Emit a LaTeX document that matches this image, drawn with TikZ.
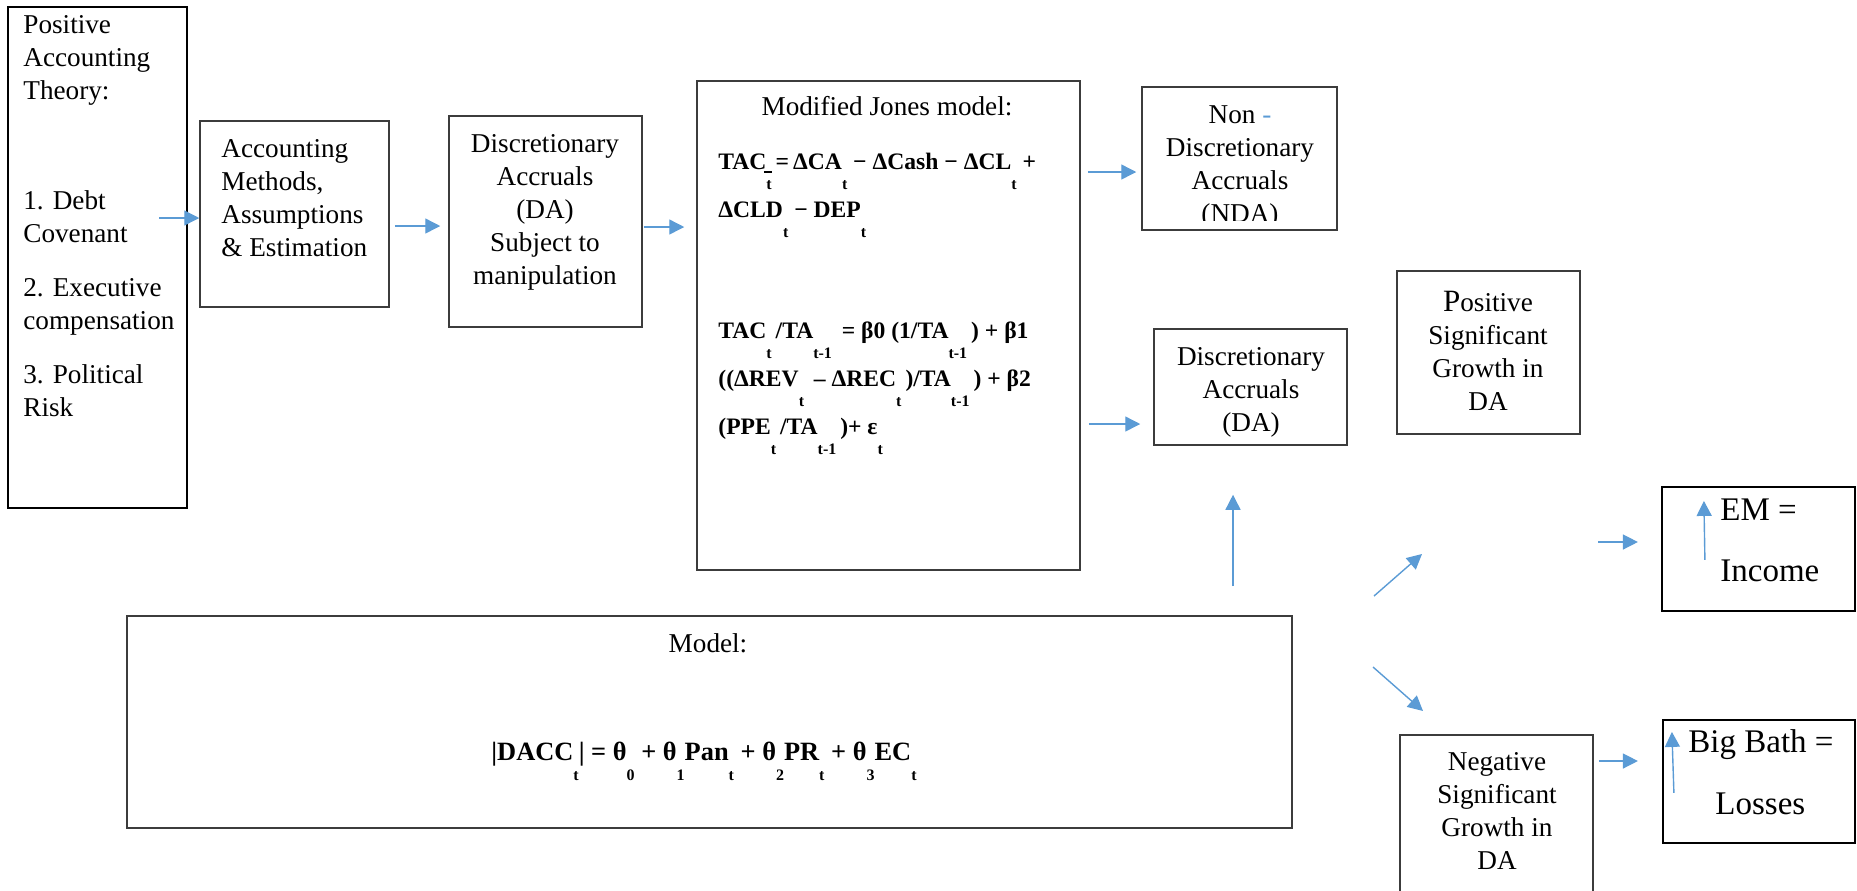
\documentclass[tikz,border=0pt]{standalone}
\usepackage{fontspec}
\setmainfont{Liberation Serif}
\usepackage{tikz}
\usetikzlibrary{
  arrows.meta,
  fit
}
\definecolor{ArrowBlue}{RGB}{91, 155, 213}
\definecolor{BoxGray}{RGB}{60, 60, 60}
\newcommand{\lo}[1]{\smash{\raisebox{-10pt}{\fontsize{8}{8}\selectfont\bfseries #1}}}
\newcommand{\tstrut}{\rule{0pt}{10pt}}

\begin{document}
\begin{tikzpicture}[x=0.5pt, y=-0.5pt,
    box/.style={draw=BoxGray, line width=0.75pt, inner sep=0pt},
    thickbox/.style={draw=black, line width=1.1pt, inner sep=0pt},
    txt/.style={inner sep=0pt, font=\fontsize{13.6}{16.5}\selectfont},
    eqn/.style={inner sep=0pt, align=left, font=\fontsize{11.8}{24}\selectfont\bfseries},
    arr/.style={draw=ArrowBlue, line width=0.7pt, -{Triangle[length=7.5pt, width=7.5pt]}}]
    \useasboundingbox (0,0) rectangle (1857,890);

    % boxes
    \node[thickbox, fit={(8,7) (187,508)}] (pat) {};
    \node[box, fit={(200,121) (389,307)}] (ame) {};
    \node[box, fit={(449,116) (642,327)}] (da) {};
    \node[box, fit={(697,81) (1080,570)}] (mj) {};
    \node[box, fit={(1142,87) (1337,230)}] (nda) {};
    \node[box, fit={(1154,329) (1347,445)}] (dacc) {};
    \node[box, fit={(1397,271) (1580,434)}] (psg) {};
    \node[box, fit={(1400,735) (1593,900)}] (nsg) {};
    \node[thickbox, fit={(1662,487) (1855,611)}] (em) {};
    \node[thickbox, fit={(1663,720) (1855,843)}] (bb) {};
    \node[box, fit={(127,616) (1292,828)}] (model) {};

    % texts
    \node[txt, anchor=north west, align=left] (pattext) at (23,13) {\tstrut Positive\\Accounting\\Theory:\\[38.5pt]
        1. Debt\\Covenant\\[10.5pt]2. Executive\\compensation\\[10.5pt]3. Political\\Risk};
    \node[txt, anchor=north west, align=left] (ametext) at (221,137) {\tstrut Accounting\\Methods,\\Assumptions\\\& Estimation};
    \node[txt, anchor=north, align=center] (datext) at (545,132) {\tstrut Discretionary\\Accruals\\(DA)\\Subject to\\manipulation};
    \node[txt, anchor=north] (mjtitle) at (887,95) {\tstrut Modified Jones model:};
    \node[eqn, anchor=north west] (tac) at (718,149) {\tstrut TAC\lo{t}\llap{\rule[-2pt]{4pt}{1pt}}\,=\,ΔCA\lo{t} − ΔCash − ΔCL\lo{t} +\\
        ΔCLD\lo{t} − DEP\lo{t}};
    \node[eqn, anchor=north west] (jones) at (718,318) {\tstrut TAC\lo{t}\,/TA\lo{t-1}\, = β0 (1/TA\lo{t-1}\,) + β1\\
        ((ΔREV\lo{t}\, – ΔREC\lo{t}\,)/TA\lo{t-1}\,) + β2\\
        (PPE\lo{t}\,/TA\lo{t-1}\,)+ ε\lo{t}};
    \begin{scope}
        \clip (1142,87) rectangle (1337,220);
        \node[txt, anchor=north, align=center] (ndatext) at (1240,103) {\tstrut Non {\color{ArrowBlue}-}\\Discretionary\\Accruals\\(NDA)};
    \end{scope}
    \node[txt, anchor=north, align=center] (dacctext) at (1251,345) {\tstrut Discretionary\\Accruals\\(DA)};
    \node[txt, anchor=north, align=center] (psgtext) at (1488,291) {\tstrut{\fontsize{15.5}{16.5}\selectfont P}ositive\\Significant\\Growth in\\DA};
    \node[txt, anchor=north, align=center] (nsgtext) at (1497,750) {\tstrut Negative\\Significant\\Growth in\\DA};
    \node[inner sep=0pt, anchor=north west, align=left, font=\fontsize{16.5}{30.5}\selectfont] (emtext) at (1720,498) {\tstrut EM =\\Income};
    \node[inner sep=0pt, anchor=north west, align=left, font=\fontsize{16.5}{31}\selectfont] (bbtext) at (1688,729) {\tstrut Big Bath =\\\hspace*{13.5pt}Losses};
    \node[txt, anchor=north] (modeltitle) at (708,632) {\tstrut Model:};
    \node[inner sep=0pt, anchor=north, font=\fontsize{13.2}{24}\selectfont\bfseries] (dacceq) at (704,740)
        {\tstrut |DACC\lo{t}| = θ\lo{0} + θ\lo{1}Pan\lo{t} + θ\lo{2}PR\lo{t} + θ\lo{3}EC\lo{t}};

    % arrows
    \coordinate (upfoot) at (1233,586);
    \coordinate (risestart) at (1374,596);
    \coordinate (risetip) at (1422,554);
    \coordinate (fallstart) at (1373,667);
    \coordinate (falltip) at (1423,711);
    \coordinate (emfoot) at (1598,542);
    \draw[arr] ([shift={(-29,-39.5)}]pat.east) -- ([shift={(0,4)}]ame.west);
    \draw[arr] ([shift={(5,12)}]ame.east) -- ([shift={(-8,4.5)}]da.west);
    \draw[arr] ([shift={(1,5.5)}]da.east) -- ([shift={(-12,-98.5)}]mj.west);
    \draw[arr] ([shift={(7,-153.5)}]mj.east) -- ([shift={(-5,13.5)}]nda.west);
    \draw[arr] ([shift={(8,98.5)}]mj.east) -- ([shift={(-13,37)}]dacc.west);
    \draw[arr] (upfoot) -- ([shift={(-17.5,49)}]dacc.south);
    \draw[arr] (risestart) -- (risetip);
    \draw[arr] (fallstart) -- (falltip);
    \draw[arr] (emfoot) -- ([shift={(-23,-7)}]em.west);
    \draw[arr] ([shift={(5,-56.5)}]nsg.east) -- ([shift={(-24,-20.5)}]bb.west);
    \draw[arr] ([shift={(44,74)}]em.north west) -- ([shift={(43,15)}]em.north west);
    \draw[arr] ([shift={(12,74)}]bb.north west) -- ([shift={(10,13)}]bb.north west);
\end{tikzpicture}
\end{document}
